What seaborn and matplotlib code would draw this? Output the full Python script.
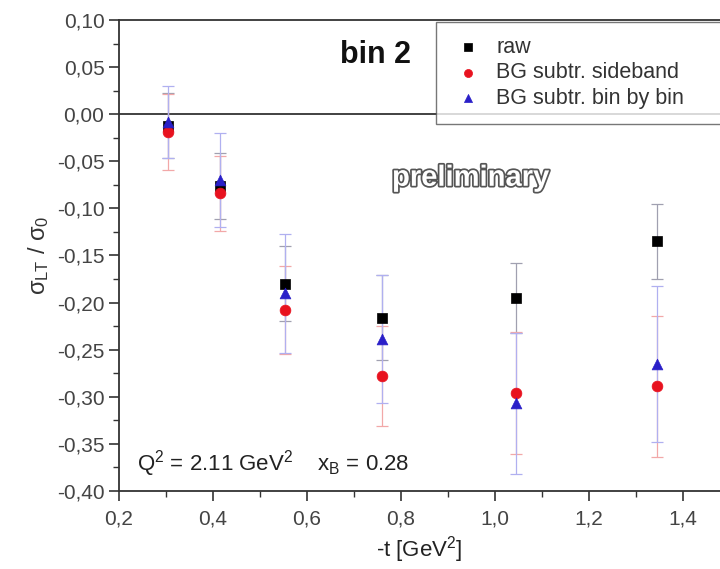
import numpy as np
import pandas as pd
import matplotlib
matplotlib.use("Agg")
import matplotlib.pyplot as plt
import matplotlib.patheffects as pe
from matplotlib.ticker import MultipleLocator, FuncFormatter
import seaborn as sns

# ---- data ----
t_vals = [0.305, 0.415, 0.553, 0.760, 1.045, 1.345]
raw = [-0.012, -0.076, -0.180, -0.216, -0.195, -0.135]
raw_err = [0.035, 0.035, 0.040, 0.045, 0.037, 0.040]
sideband = [-0.019, -0.084, -0.208, -0.278, -0.296, -0.289]
sideband_err = [0.040, 0.040, 0.047, 0.053, 0.065, 0.075]
binbybin = [-0.008, -0.070, -0.190, -0.239, -0.307, -0.265]
binbybin_err = [0.038, 0.050, 0.063, 0.068, 0.075, 0.083]
series_names = ["raw", "BG subtr. sideband", "BG subtr. bin by bin"]

sns.set_theme(style="ticks")
plt.rcParams["font.family"] = ["Liberation Sans", "DejaVu Sans"]
plt.rcParams["mathtext.fontset"] = "custom"
plt.rcParams["mathtext.rm"] = "Liberation Sans"
plt.rcParams["mathtext.it"] = "Liberation Sans"

df = pd.DataFrame({
    "t": t_vals * 3,
    "val": raw + sideband + binbybin,
    "err": raw_err + sideband_err + binbybin_err,
    "series": [series_names[0]] * 6 + [series_names[1]] * 6 + [series_names[2]] * 6,
})

fig = plt.figure(figsize=(7.2, 5.69), dpi=100)
ax = fig.add_axes([119 / 720, 1 - 491 / 569, 1 - 119 / 720, (491 - 20) / 569])

colors = {series_names[0]: "black", series_names[1]: "#e8121f", series_names[2]: "#2a1fc8"}
ecolors = {series_names[0]: "#a0a0b0", series_names[1]: "#f2a8a8", series_names[2]: "#b0b0f0"}
markers = {series_names[0]: "s", series_names[1]: "o", series_names[2]: "^"}

# error bars
for name in series_names:
    sub = df[df.series == name]
    ax.errorbar(sub.t, sub.val, yerr=sub.err, fmt="none", ecolor=ecolors[name],
                elinewidth=0.9, capsize=4, capthick=0.9, zorder=2)

# markers via seaborn
for name in series_names:
    sub = df[df.series == name]
    sns.scatterplot(data=sub, x="t", y="val", color=colors[name], marker=markers[name],
                    s=60, edgecolor=colors[name], linewidth=0.5, ax=ax, label=name, zorder=3)

ax.axhline(0.0, color="#333333", lw=1.3, zorder=1)

ax.set_xlim(0.2, 0.2 + 601 / 470)
ax.set_ylim(-0.40, 0.10)
ax.xaxis.set_major_locator(MultipleLocator(0.2))
ax.xaxis.set_minor_locator(MultipleLocator(0.1))
ax.yaxis.set_major_locator(MultipleLocator(0.05))
ax.yaxis.set_minor_locator(MultipleLocator(0.025))
ax.xaxis.set_major_formatter(FuncFormatter(lambda v, p: f"{v:.1f}".replace(".", ",")))
ax.yaxis.set_major_formatter(FuncFormatter(lambda v, p: f"{v:.2f}".replace(".", ",").replace("-0,00", "0,00")))

for s in ["left", "bottom", "top"]:
    ax.spines[s].set_color("#333333")
    ax.spines[s].set_linewidth(1.3)
ax.spines["right"].set_visible(False)
ax.tick_params(which="major", direction="out", length=7, width=1.2, color="#333333",
               labelsize=15, labelcolor="#444444")
ax.tick_params(which="minor", direction="out", length=4, width=1.0, color="#333333")
ax.tick_params(axis="x", pad=6)

ax.set_xlabel(r"-t [GeV$^2$]", fontsize=16, color="#222222", labelpad=4)
ax.set_ylabel(r"$\sigma_{LT}$ / $\sigma_0$", fontsize=17, color="#333333", labelpad=4)

ax.text(0.426, 0.925, "bin 2", transform=ax.transAxes, fontsize=22, fontweight="bold",
        color="#111111", ha="center", va="center")

ax.text(0.585, 0.665, "preliminary", transform=ax.transAxes, fontsize=21, fontweight="bold",
        color="white", ha="center", va="center",
        path_effects=[pe.withStroke(linewidth=2.5, foreground="#555555")])

ax.text(0.03, 0.058, r"Q$^2$ = 2.11 GeV$^2$    x$_B$ = 0.28", transform=ax.transAxes,
        fontsize=16, color="#222222", ha="left", va="center")

leg = ax.legend(loc="upper left", bbox_to_anchor=(0.527, 0.0, 0.6, 0.996), mode="expand",
                frameon=True, fancybox=False,
                fontsize=15.5, borderaxespad=0.0, handletextpad=0.5, labelspacing=0.2,
                borderpad=0.7, markerscale=0.75, handlelength=1.6)
leg.get_frame().set_edgecolor("#555555")
leg.get_frame().set_linewidth(1.0)
for txt in leg.get_texts():
    txt.set_color("#333333")
leg.set_zorder(5)

fig.savefig("out.png", dpi=100)
